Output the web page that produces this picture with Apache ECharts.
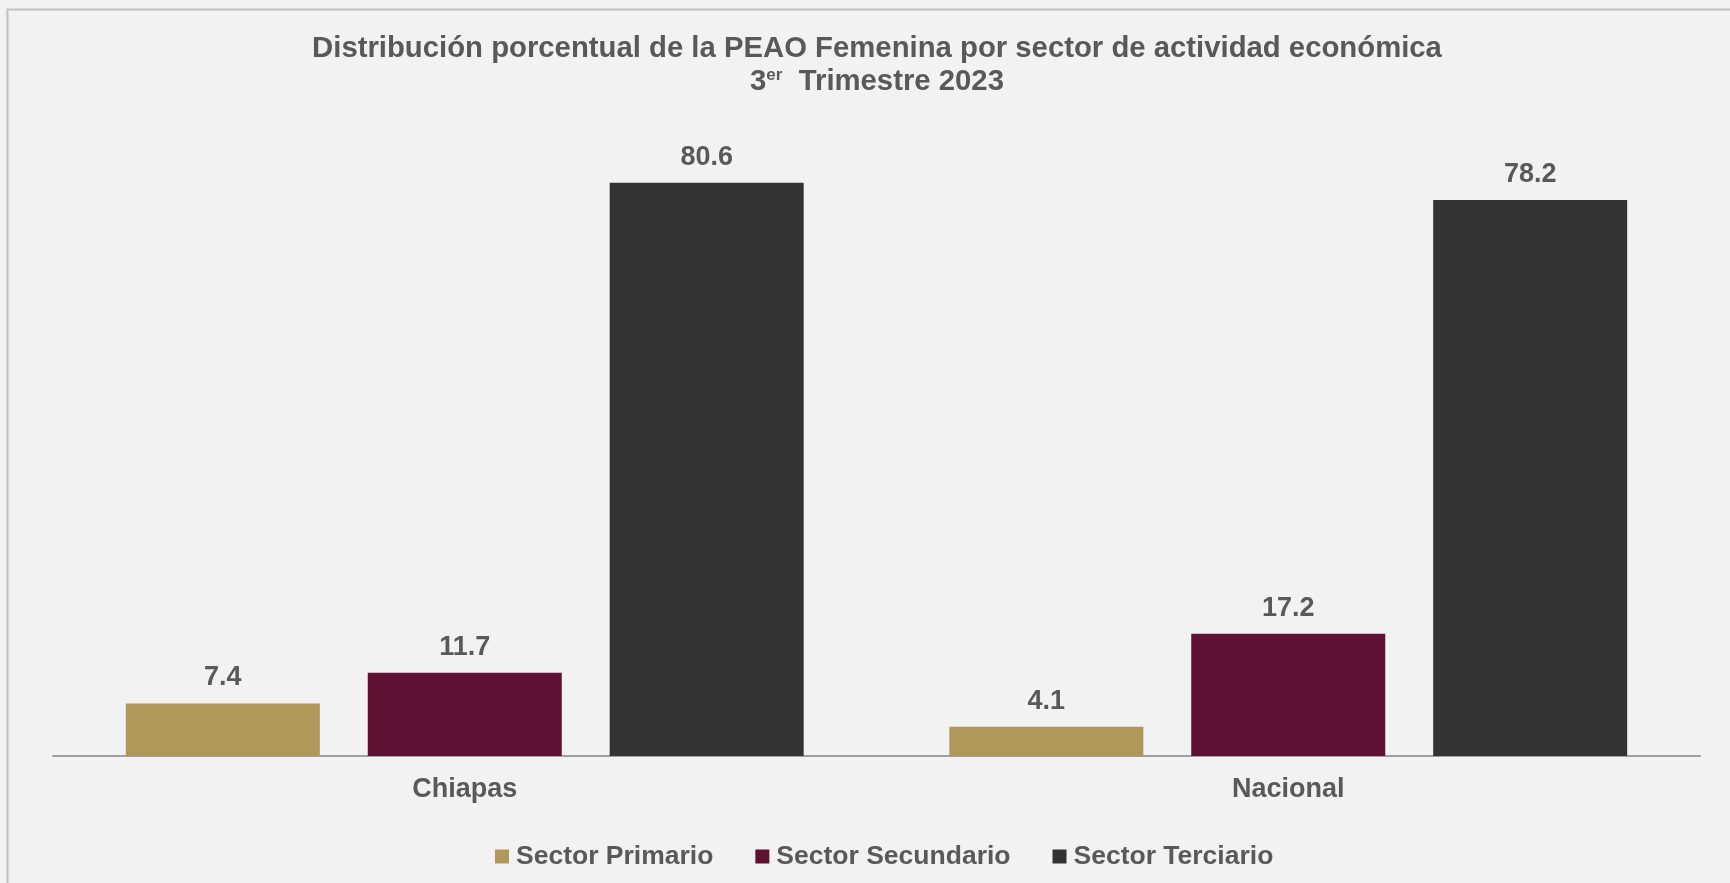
<!DOCTYPE html>
<html>
<head>
<meta charset="utf-8">
<script src="https://cdn.jsdelivr.net/npm/echarts@6/dist/echarts.min.js"></script>
<style>
  html, body { margin: 0; padding: 0; background: #F2F2F2; overflow: hidden; }
  #chart { width: 1754px; height: 883px; }
</style>
</head>
<body>
<div id="chart"></div>
<script>
// Data
const categories = ['Chiapas', 'Nacional']
const seriesNames = ['Sector Primario', 'Sector Secundario', 'Sector Terciario']
const primario = [7.4, 4.1]
const secundario = [11.7, 17.2]
const terciario = [80.6, 78.2]

const colors = ['#AF985A', '#5E1130', '#333333']
const textColor = '#595959'
const font = '"Liberation Sans", Arial, sans-serif'

const labelStyle = {
  show: true,
  position: 'top',
  distance: 12,
  color: textColor,
  fontFamily: font,
  fontWeight: 'bold',
  fontSize: 27,
  formatter: (p) => p.value.toFixed(1)
}

function makeSeries(name, data, color) {
  return {
    name,
    type: 'bar',
    data,
    barWidth: 194,
    barGap: '24.7%',
    itemStyle: { color },
    label: labelStyle
  }
}

const chart = echarts.init(document.getElementById('chart'))

chart.setOption({
  backgroundColor: '#F2F2F2',
  animation: false,
  color: colors,
  title: {
    text: 'Distribución porcentual de la PEAO Femenina por sector de actividad económica\n3{sup|er}  Trimestre 2023',
    left: 'center',
    top: 32,
    padding: 0,
    textStyle: {
      color: textColor,
      fontFamily: font,
      fontWeight: 'bold',
      fontSize: 29.3,
      lineHeight: 33,
      rich: {
        sup: {
          color: textColor,
          fontFamily: font,
          fontWeight: 'bold',
          fontSize: 17,
          lineHeight: 33,
          padding: [0, 0, 13, 0]
        }
      }
    }
  },
  legend: {
    data: seriesNames,
    bottom: 8,
    left: 490,
    icon: 'rect',
    itemWidth: 14,
    itemHeight: 14,
    itemGap: 42,
    textStyle: {
      color: textColor,
      fontFamily: font,
      fontWeight: 'bold',
      fontSize: 26.5,
      padding: [0, 0, 0, 2]
    }
  },
  grid: {
    left: 53,
    right: 54,
    top: 116,
    bottom: 127
  },
  xAxis: {
    type: 'category',
    data: categories,
    axisTick: { show: false },
    axisLine: { lineStyle: { color: '#A0A0A0', width: 2 } },
    axisLabel: {
      color: textColor,
      fontFamily: font,
      fontWeight: 'bold',
      fontSize: 27,
      margin: 20
    }
  },
  yAxis: {
    type: 'value',
    min: 0,
    max: 90,
    show: false,
    splitLine: { show: false }
  },
  graphic: [
    {
      type: 'rect',
      shape: { x: 7.5, y: 9.5, width: 1900, height: 1000 },
      style: { fill: 'none', stroke: '#BFBFBF', lineWidth: 2 },
      silent: true
    }
  ],
  series: [
    makeSeries(seriesNames[0], primario, colors[0]),
    makeSeries(seriesNames[1], secundario, colors[1]),
    makeSeries(seriesNames[2], terciario, colors[2])
  ]
})
</script>
</body>
</html>
